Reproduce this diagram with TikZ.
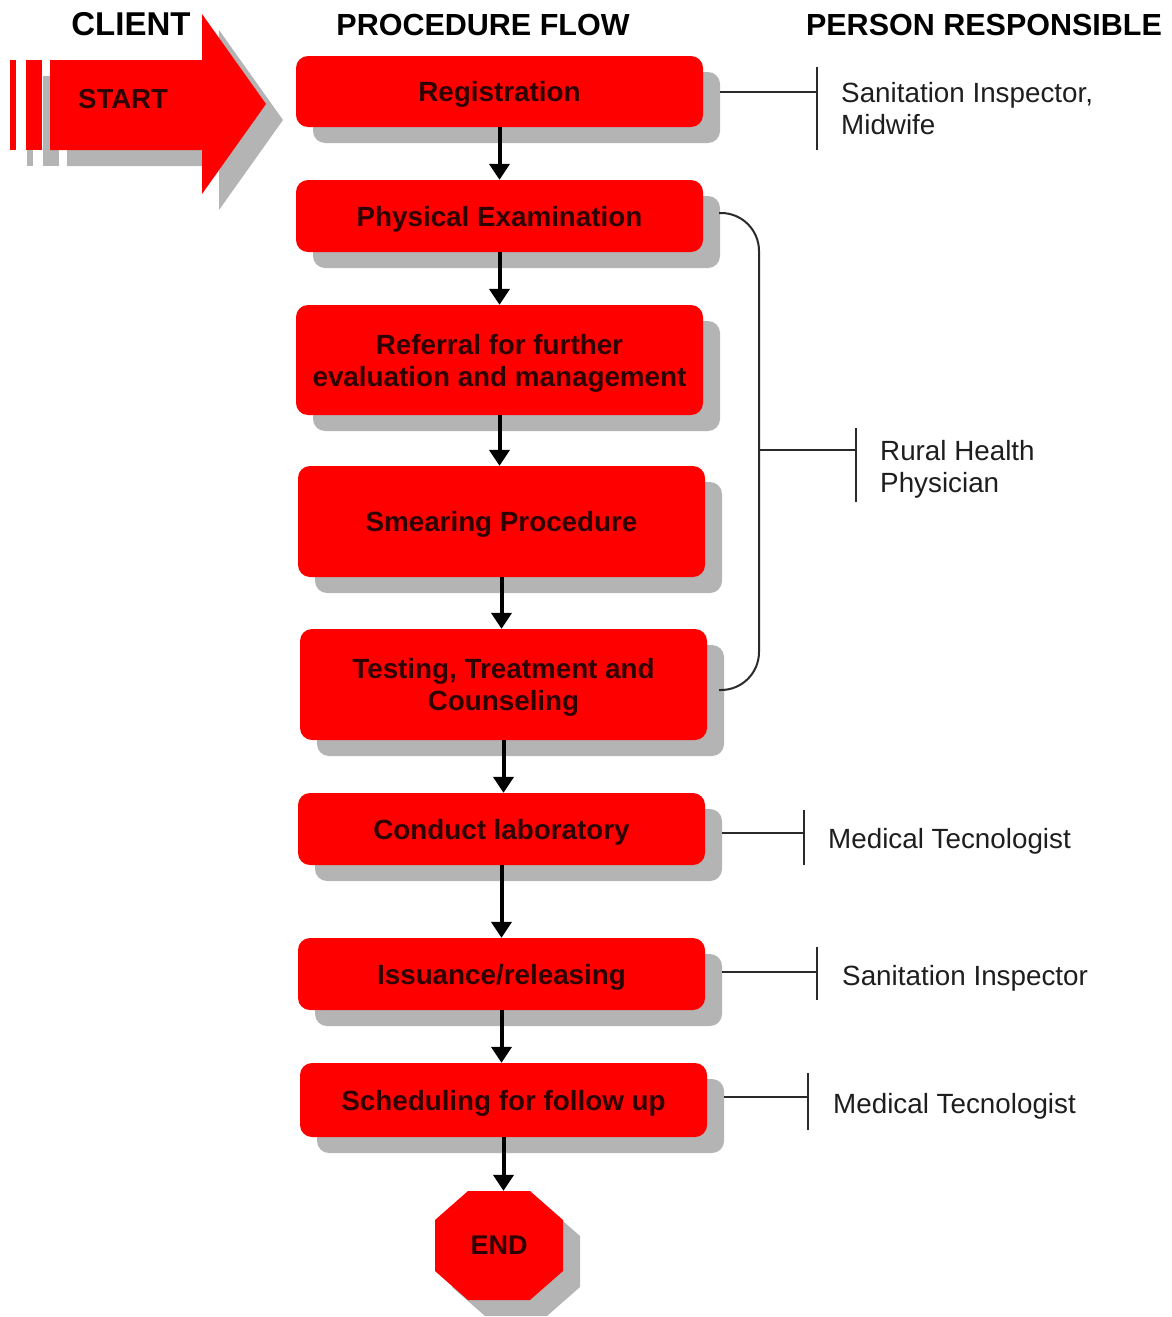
\documentclass[tikz,border=0pt]{standalone}
\usepackage{fontspec}
\setmainfont{Liberation Sans}
\usetikzlibrary{shadows,arrows.meta,calc}
\definecolor{flowred}{HTML}{FF0000}
\definecolor{shadowgray}{HTML}{B4B4B4}
\definecolor{labeldark}{HTML}{2E0000}
\definecolor{linegray}{HTML}{2A2A2A}
\definecolor{persontext}{HTML}{1E1E1E}

\begin{document}
\begin{tikzpicture}[x=1pt,y=-1pt,
  flowshadow/.style={drop shadow={shadow xshift=17pt,shadow yshift=-16pt,fill=shadowgray,opacity=1}},
  stepbox/.style={flowshadow, fill=flowred, rounded corners=12pt, minimum width=407pt,
    inner sep=0pt, text depth=0pt, align=center, text=labeldark,
    font=\fontsize{27.8}{32}\selectfont\bfseries},
  flowarrow/.style={line width=4pt, -{Triangle[width=20pt,length=16pt]}},
  tie/.style={line width=2pt, draw=linegray},
  person/.style={align=left, text=persontext, font=\fontsize{27.8}{32}\selectfont, inner sep=0pt},
  header/.style={font=\fontsize{30.5}{34}\selectfont\bfseries, text=black, inner sep=0pt}
]
\useasboundingbox (0,0) rectangle (1171,1317);

% column headers
\node[header] (hclient) at (131,24) {\fontsize{33}{36}\selectfont CLIENT};
\node[header] (hflow) at (483,25) {PROCEDURE FLOW};
\node[header] (hperson) at (984,25) {PERSON RESPONSIBLE};

% start arrow with its stripes
\fill[flowshadow, flowred] (10,60) rectangle (16,150);
\fill[flowshadow, flowred] (26,60) rectangle (42,150);
\fill[flowshadow, flowred] (50,60) -- (202,60) -- (202,14) -- (266,104)
  -- (202,194) -- (202,150) -- (50,150) -- cycle;
\node[inner sep=0pt, text=labeldark, font=\fontsize{27.5}{32}\selectfont\bfseries] (start) at (123,99) {START};

% procedure steps
\node[stepbox, minimum height=71pt] (reg) at (499.5,91.5) {Registration};
\node[stepbox, minimum height=72pt] (phys) at (499.5,216) {Physical Examination};
\node[stepbox, minimum height=110pt] (ref) at (499.5,360) {Referral for further\\evaluation and management};
\node[stepbox, minimum height=111pt] (smear) at (501.5,521.5) {Smearing Procedure};
\node[stepbox, minimum height=111pt] (test) at (503.5,684.5) {Testing, Treatment and\\Counseling};
\node[stepbox, minimum height=72pt] (lab) at (501.5,829) {Conduct laboratory};
\node[stepbox, minimum height=72pt] (iss) at (501.5,974) {Issuance/releasing};
\node[stepbox, minimum height=74pt] (sched) at (503.5,1100) {Scheduling for follow up};

% end octagon
\fill[flowshadow, flowred] (468,1191) -- (530,1191) -- (563,1220) -- (563,1271)
  -- (530,1300) -- (468,1300) -- (435,1271) -- (435,1220) -- cycle;
\node[minimum size=109pt, inner sep=0pt, text=labeldark, font=\fontsize{27}{32}\selectfont\bfseries] (end) at (499,1245.5) {END};

% flow arrows
\draw[flowarrow] (reg.south) -- (reg.south |- phys.north);
\draw[flowarrow] (phys.south) -- (phys.south |- ref.north);
\draw[flowarrow] (ref.south) -- (ref.south |- smear.north);
\draw[flowarrow] (smear.south) -- (smear.south |- test.north);
\draw[flowarrow] (test.south) -- (test.south |- lab.north);
\draw[flowarrow] (lab.south) -- (lab.south |- iss.north);
\draw[flowarrow] (iss.south) -- (iss.south |- sched.north);
\draw[flowarrow] (sched.south) -- (sched.south |- end.north);

% responsibility ties
\coordinate (regtick) at (817,91.5);
\draw[tie] ([xshift=17pt]reg.east) -- (regtick);
\draw[tie] (817,67) -- (817,150);
\node[person, anchor=west] (pregs) at (841,109) {Sanitation Inspector,\\Midwife};

\coordinate (brtop) at (719,213);
\coordinate (brbot) at (719,690);
\coordinate (brmid) at (759,450);
\coordinate (rhptick) at (856,450);
\draw[tie, rounded corners=38pt] (brtop) -| (brmid) |- (brbot);
\draw[tie] (brmid) -- (rhptick);
\draw[tie] (856,428) -- (856,502);
\node[person, anchor=west] (prhp) at (880,469) {Rural Health\\Physician};

\coordinate (labtick) at (804,833);
\draw[tie] ([xshift=17pt]lab.east |- labtick) -- (labtick);
\draw[tie] (804,810) -- (804,865);
\node[person, anchor=base west] (plab) at (828,848) {Medical Tecnologist};

\coordinate (isstick) at (817,972);
\draw[tie] ([xshift=17pt]iss.east |- isstick) -- (isstick);
\draw[tie] (817,947) -- (817,1000);
\node[person, anchor=base west] (piss) at (842,985) {Sanitation Inspector};

\coordinate (schedtick) at (808,1097);
\draw[tie] ([xshift=17pt]sched.east |- schedtick) -- (schedtick);
\draw[tie] (808,1073) -- (808,1130);
\node[person, anchor=base west] (psched) at (833,1113) {Medical Tecnologist};
\end{tikzpicture}
\end{document}
